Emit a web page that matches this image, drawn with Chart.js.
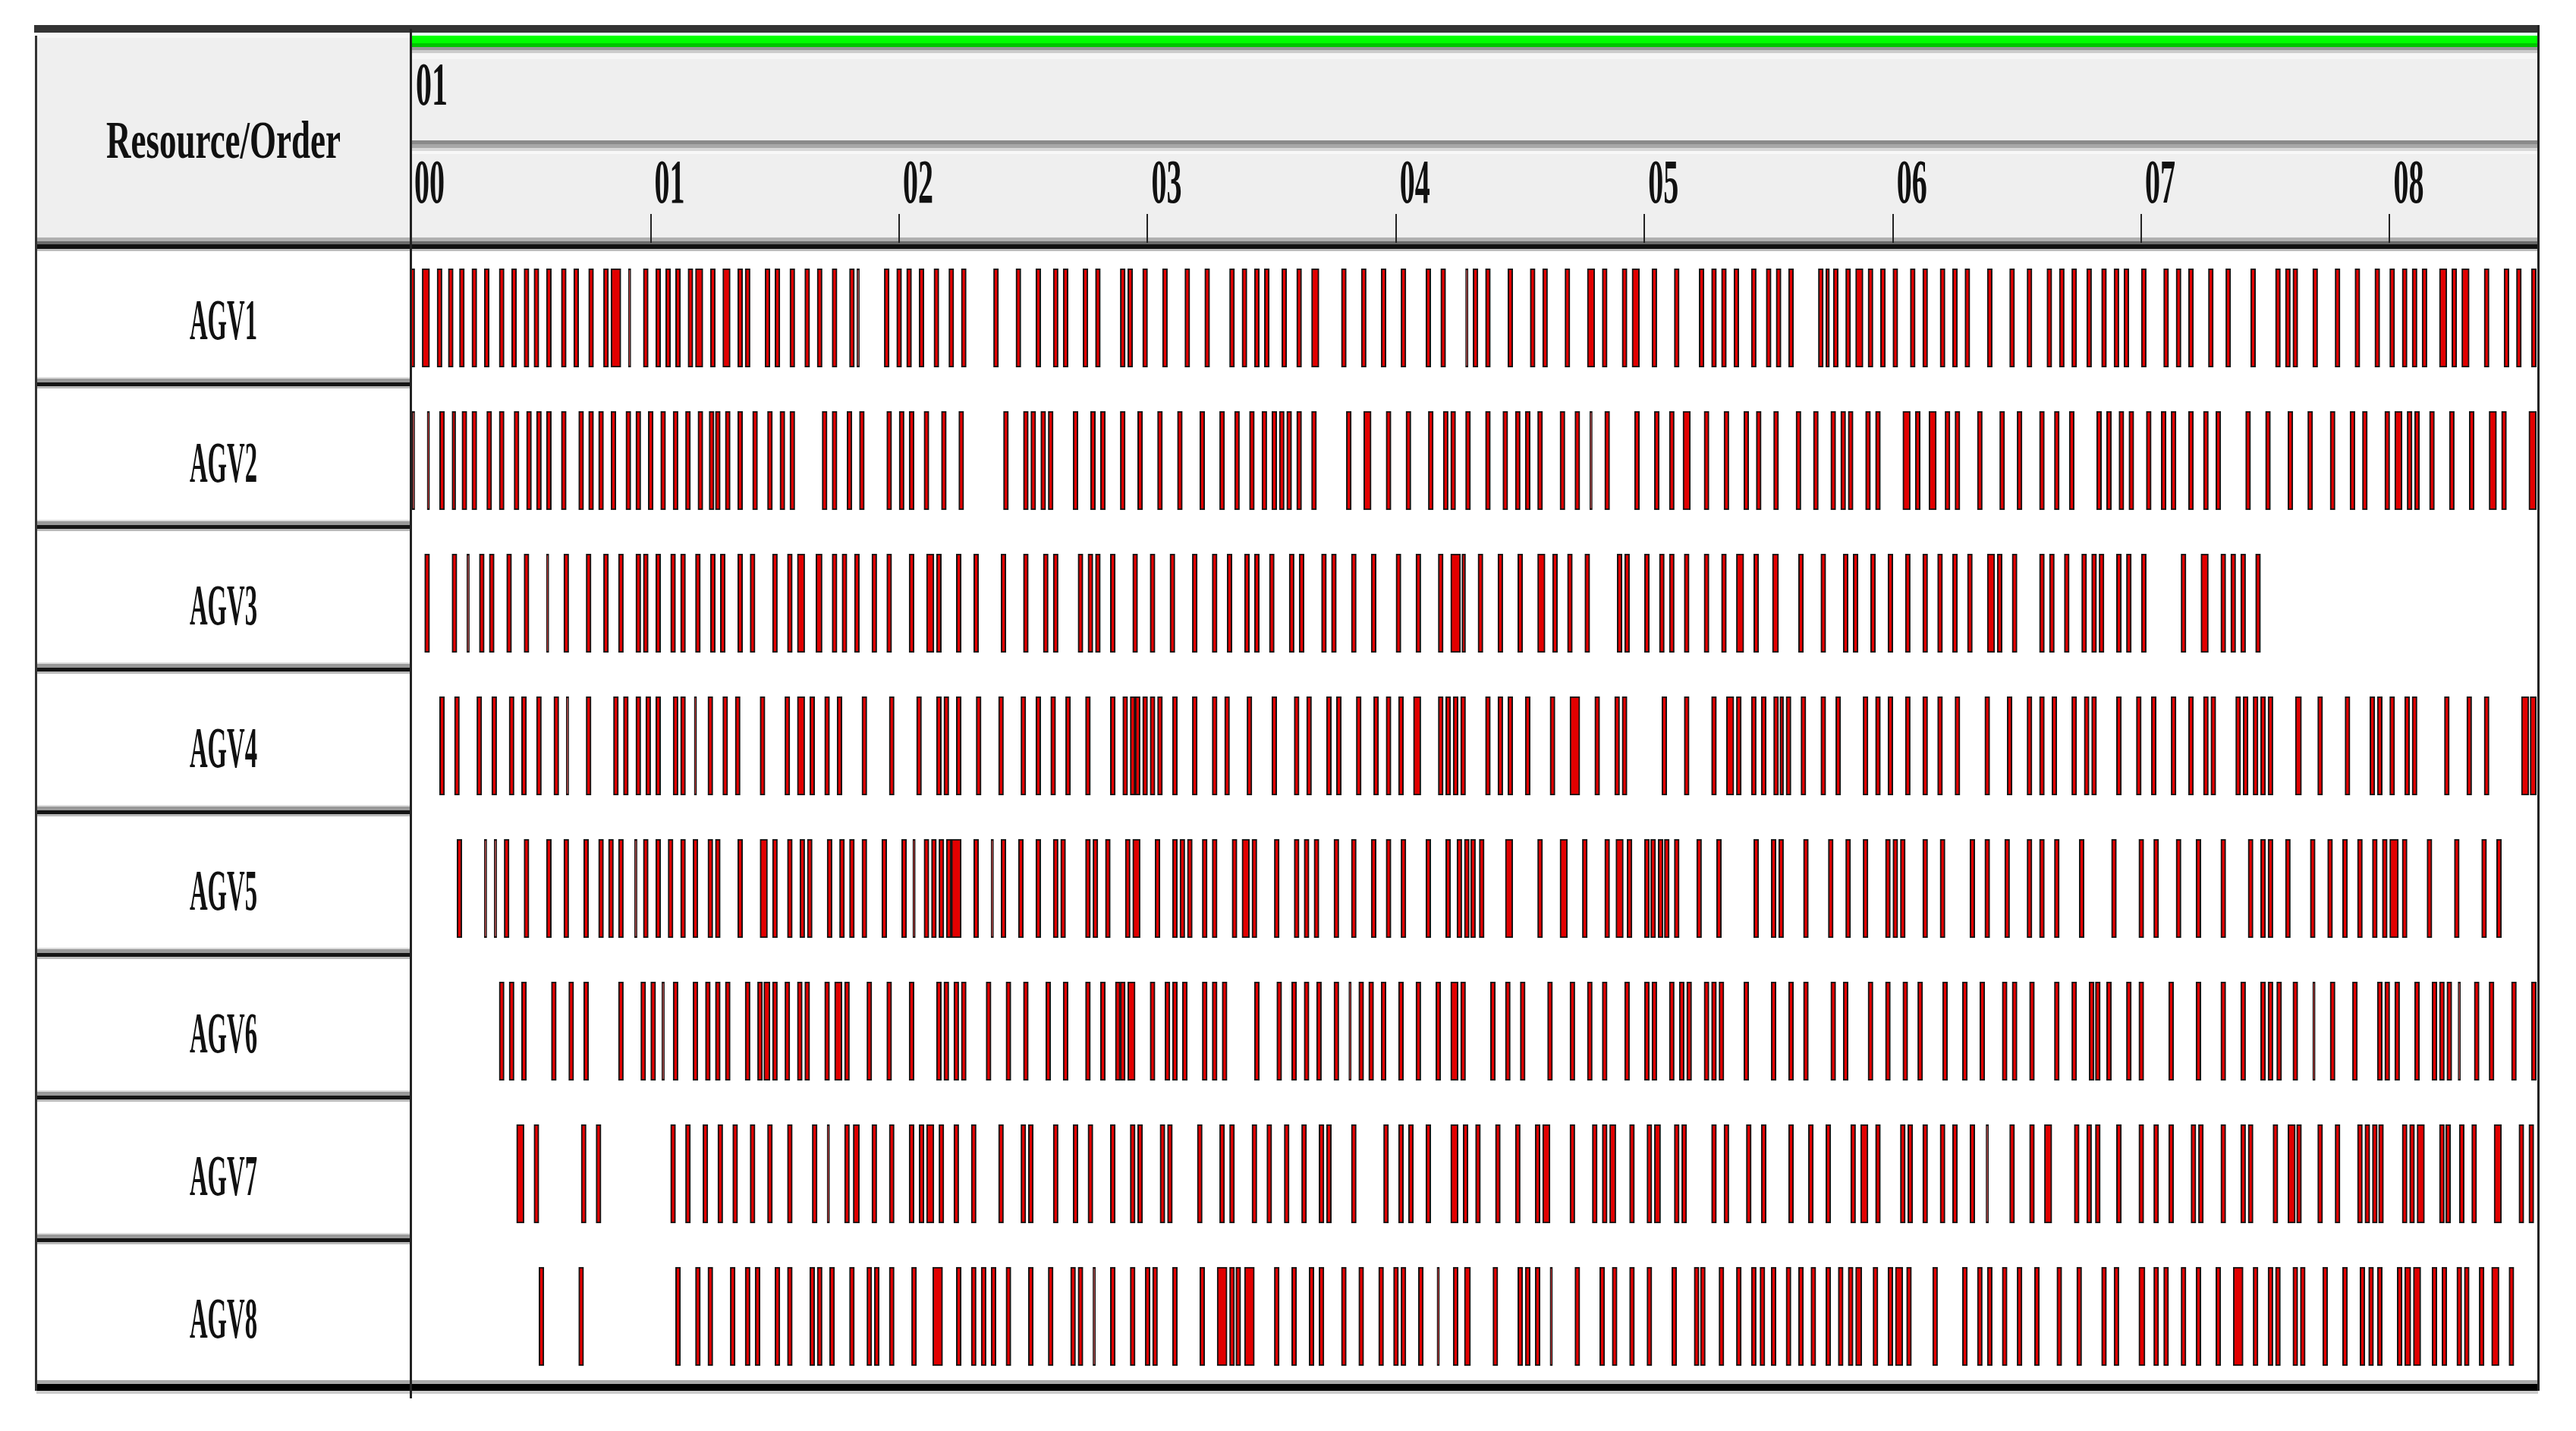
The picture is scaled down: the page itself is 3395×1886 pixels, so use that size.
<!DOCTYPE html>
<html>
<head>
<meta charset="utf-8">
<title>Resource/Order</title>
<script src="https://cdn.jsdelivr.net/npm/chart.js@4.4.1/dist/chart.umd.min.js"></script>
<style>
  html, body { margin: 0; padding: 0; background: #ffffff; }
  canvas { display: block; }
</style>
</head>
<body>
<canvas id="ganttChart" width="3395" height="1886"></canvas>
<script>
// resources (rows) and time axis
const resources = ["AGV1", "AGV2", "AGV3", "AGV4", "AGV5", "AGV6", "AGV7", "AGV8"];
const timeTicks = [0, 1, 2, 3, 4, 5, 6, 7, 8];
const timeTickLabels = ["00", "01", "02", "03", "04", "05", "06", "07", "08"];
const dayLabel = "01";
const cornerLabel = "Resource/Order";
const timeMin = 0.033;
const timeMax = 8.591;

// task intervals per AGV, [start, end] in hours
const agv1Bars = [
  [0.03,0.05],[0.08,0.11],[0.14,0.16],[0.185,0.205],[0.23,0.25],[0.28,0.30],[0.33,0.35],[0.39,0.41],[0.44,0.46],[0.49,0.51],
  [0.53,0.55],[0.58,0.60],[0.64,0.66],[0.69,0.71],[0.75,0.77],[0.81,0.83],[0.84,0.88],[0.91,0.92],[0.97,0.99],[1.02,1.04],
  [1.06,1.08],[1.10,1.12],[1.15,1.17],[1.18,1.21],[1.24,1.26],[1.29,1.32],[1.35,1.37],[1.38,1.40],[1.46,1.48],[1.50,1.52],
  [1.56,1.58],[1.62,1.64],[1.67,1.69],[1.73,1.75],[1.80,1.82],[1.83,1.84],[1.94,1.96],[1.99,2.01],[2.03,2.05],[2.08,2.10],
  [2.14,2.16],[2.20,2.22],[2.25,2.27],[2.38,2.40],[2.47,2.49],[2.55,2.57],[2.62,2.64],[2.66,2.68],[2.74,2.76],[2.79,2.81],
  [2.89,2.91],[2.92,2.94],[2.98,3.00],[3.06,3.08],[3.15,3.17],[3.23,3.25],[3.33,3.35],[3.38,3.40],[3.43,3.45],[3.47,3.49],
  [3.54,3.56],[3.60,3.62],[3.66,3.69],[3.78,3.80],[3.86,3.88],[3.94,3.96],[4.02,4.04],[4.12,4.14],[4.18,4.20],
  [4.28,4.29],[4.31,4.33],[4.36,4.38],[4.45,4.47],[4.54,4.56],[4.59,4.61],[4.68,4.70],[4.77,4.80],[4.83,4.85],[4.91,4.93],
  [4.95,4.98],[5.03,5.05],[5.12,5.14],[5.22,5.24],[5.27,5.29],[5.31,5.33],[5.36,5.38],[5.43,5.45],[5.49,5.51],[5.53,5.55],
  [5.58,5.60],[5.70,5.72],[5.73,5.745],[5.76,5.78],[5.81,5.83],[5.85,5.88],[5.90,5.92],[5.95,5.97],[6.00,6.02],[6.07,6.09],
  [6.12,6.14],[6.19,6.21],[6.24,6.26],[6.29,6.31],[6.38,6.40],[6.47,6.49],[6.54,6.56],[6.62,6.64],[6.67,6.69],[6.72,6.74],
  [6.78,6.80],[6.84,6.86],[6.89,6.91],[6.93,6.95],[7.00,7.02],[7.09,7.11],[7.14,7.16],[7.19,7.21],[7.27,7.29],[7.34,7.36],
  [7.44,7.46],[7.54,7.56],[7.58,7.60],[7.61,7.63],[7.69,7.71],[7.78,7.80],[7.86,7.88],[7.94,7.96],[8.00,8.02],[8.05,8.07],
  [8.09,8.11],[8.13,8.15],[8.20,8.23],[8.25,8.27],[8.29,8.32],[8.38,8.40],[8.46,8.48],[8.51,8.53],[8.57,8.59]
];
const agv2Bars = [
  [0.04,0.05],[0.10,0.11],[0.15,0.17],[0.20,0.215],[0.24,0.26],[0.28,0.30],[0.34,0.36],[0.39,0.41],[0.45,0.47],[0.50,0.52],
  [0.54,0.56],[0.58,0.60],[0.64,0.66],[0.71,0.73],[0.75,0.77],[0.79,0.81],[0.84,0.86],[0.90,0.92],[0.94,0.96],[0.99,1.01],
  [1.04,1.06],[1.09,1.11],[1.14,1.16],[1.19,1.21],[1.235,1.255],[1.26,1.28],[1.30,1.32],[1.35,1.37],[1.41,1.43],[1.47,1.49],
  [1.52,1.54],[1.56,1.58],[1.69,1.71],[1.73,1.75],[1.79,1.81],[1.84,1.86],[1.95,1.97],[2.00,2.02],[2.04,2.06],[2.10,2.12],
  [2.17,2.19],[2.24,2.26],[2.42,2.44],[2.50,2.52],[2.53,2.55],[2.57,2.59],[2.60,2.62],[2.70,2.72],[2.77,2.79],[2.81,2.83],
  [2.89,2.91],[2.96,2.98],[3.04,3.06],[3.12,3.14],[3.21,3.23],[3.29,3.31],[3.35,3.37],[3.41,3.43],[3.46,3.48],[3.50,3.52],
  [3.53,3.55],[3.56,3.58],[3.60,3.62],[3.66,3.68],[3.80,3.82],[3.87,3.90],[3.96,3.98],[4.04,4.06],[4.13,4.15],[4.19,4.21],
  [4.22,4.24],[4.28,4.30],[4.36,4.38],[4.43,4.45],[4.48,4.50],[4.52,4.54],[4.57,4.59],[4.66,4.68],[4.72,4.74],[4.78,4.79],
  [4.84,4.86],[4.96,4.98],[5.04,5.06],[5.10,5.12],[5.155,5.185],[5.24,5.26],[5.32,5.34],[5.40,5.42],[5.45,5.47],[5.52,5.54],
  [5.61,5.63],[5.68,5.70],[5.75,5.77],[5.79,5.81],[5.82,5.84],[5.89,5.91],[5.93,5.95],[6.04,6.07],[6.09,6.11],[6.145,6.175],
  [6.21,6.23],[6.25,6.27],[6.34,6.36],[6.43,6.45],[6.50,6.52],[6.59,6.61],[6.65,6.67],[6.71,6.73],[6.82,6.84],[6.86,6.88],
  [6.91,6.93],[6.95,6.97],[7.02,7.04],[7.08,7.10],[7.12,7.14],[7.19,7.21],[7.25,7.27],[7.30,7.32],[7.42,7.44],[7.50,7.52],
  [7.59,7.61],[7.67,7.69],[7.76,7.78],[7.84,7.86],[7.89,7.91],[7.98,8.00],[8.02,8.05],[8.07,8.09],[8.10,8.12],[8.16,8.18],
  [8.24,8.26],[8.32,8.34],[8.40,8.43],[8.45,8.47],[8.56,8.59]
];
const agv3Bars = [
  [0.09,0.11],[0.20,0.22],[0.26,0.27],[0.31,0.33],[0.35,0.37],[0.42,0.44],[0.49,0.51],[0.58,0.59],[0.65,0.67],[0.74,0.76],
  [0.81,0.83],[0.87,0.89],[0.94,0.96],[0.97,0.99],[1.02,1.04],[1.08,1.10],[1.12,1.14],[1.18,1.20],[1.24,1.26],[1.28,1.30],
  [1.35,1.37],[1.40,1.42],[1.49,1.51],[1.55,1.57],[1.59,1.62],[1.665,1.69],[1.73,1.75],[1.77,1.79],[1.82,1.84],[1.89,1.91],
  [1.95,1.97],[2.04,2.06],[2.11,2.14],[2.15,2.17],[2.23,2.25],[2.30,2.32],[2.41,2.43],[2.50,2.52],[2.58,2.60],[2.62,2.64],
  [2.72,2.74],[2.76,2.78],[2.79,2.81],[2.85,2.87],[2.94,2.96],[3.01,3.03],[3.09,3.11],[3.18,3.20],[3.26,3.28],[3.32,3.34],
  [3.39,3.41],[3.43,3.45],[3.49,3.51],[3.57,3.59],[3.61,3.63],[3.70,3.72],[3.74,3.76],[3.82,3.84],[3.90,3.92],[4.00,4.02],
  [4.08,4.10],[4.17,4.19],[4.22,4.26],[4.265,4.28],[4.33,4.35],[4.41,4.43],[4.49,4.51],[4.57,4.60],[4.63,4.65],[4.69,4.71],
  [4.76,4.78],[4.89,4.91],[4.92,4.94],[5.00,5.02],[5.06,5.08],[5.10,5.12],[5.16,5.18],[5.24,5.26],[5.31,5.33],[5.37,5.40],
  [5.44,5.46],[5.515,5.54],[5.62,5.64],[5.71,5.73],[5.80,5.82],[5.84,5.86],[5.91,5.93],[5.98,6.00],[6.05,6.07],[6.12,6.14],
  [6.18,6.20],[6.24,6.26],[6.30,6.32],[6.38,6.41],[6.42,6.44],[6.48,6.50],[6.59,6.61],[6.63,6.65],[6.69,6.71],[6.76,6.78],
  [6.80,6.82],[6.83,6.85],[6.90,6.92],[6.94,6.96],[7.00,7.02],[7.16,7.18],[7.24,7.27],[7.32,7.34],[7.36,7.38],[7.40,7.42],
  [7.46,7.48]
];
const agv4Bars = [
  [0.15,0.17],[0.21,0.23],[0.30,0.32],[0.36,0.38],[0.43,0.45],[0.48,0.50],[0.54,0.56],[0.61,0.63],[0.66,0.67],[0.74,0.76],
  [0.85,0.87],[0.89,0.91],[0.94,0.96],[0.98,1.00],[1.02,1.04],[1.09,1.11],[1.12,1.14],[1.175,1.185],[1.23,1.25],[1.29,1.31],
  [1.34,1.36],[1.44,1.46],[1.54,1.56],[1.59,1.62],[1.64,1.66],[1.70,1.72],[1.75,1.77],[1.85,1.87],[1.96,1.98],[2.07,2.09],
  [2.15,2.17],[2.18,2.20],[2.23,2.25],[2.31,2.33],[2.40,2.42],[2.49,2.51],[2.55,2.57],[2.61,2.63],[2.67,2.69],[2.75,2.77],
  [2.85,2.87],[2.90,2.92],[2.93,2.95],[2.95,2.97],[2.98,3.00],[3.01,3.03],[3.04,3.06],[3.10,3.12],[3.18,3.20],[3.26,3.28],
  [3.31,3.33],[3.40,3.42],[3.50,3.52],[3.59,3.61],[3.64,3.66],[3.72,3.74],[3.76,3.78],[3.84,3.86],[3.91,3.93],[3.96,3.98],
  [4.01,4.03],[4.07,4.10],[4.17,4.19],[4.20,4.22],[4.23,4.25],[4.26,4.28],[4.36,4.38],[4.41,4.43],[4.45,4.47],[4.52,4.54],
  [4.62,4.64],[4.70,4.74],[4.80,4.82],[4.88,4.90],[4.91,4.93],[5.07,5.09],[5.16,5.18],[5.27,5.29],[5.33,5.36],[5.37,5.39],
  [5.43,5.45],[5.47,5.49],[5.52,5.54],[5.545,5.56],[5.57,5.59],[5.63,5.65],[5.71,5.73],[5.77,5.79],[5.88,5.90],[5.93,5.95],
  [5.98,6.00],[6.05,6.07],[6.12,6.14],[6.18,6.20],[6.25,6.27],[6.37,6.39],[6.46,6.48],[6.54,6.56],[6.59,6.61],[6.64,6.66],
  [6.72,6.74],[6.77,6.79],[6.80,6.82],[6.90,6.92],[6.98,7.00],[7.04,7.06],[7.12,7.14],[7.19,7.21],[7.25,7.27],[7.28,7.30],
  [7.38,7.40],[7.41,7.43],[7.45,7.47],[7.48,7.50],[7.51,7.53],[7.62,7.645],[7.71,7.73],[7.82,7.84],[7.92,7.94],[7.95,7.97],
  [8.00,8.02],[8.06,8.08],[8.09,8.11],[8.22,8.24],[8.31,8.33],[8.38,8.40],[8.53,8.56],[8.565,8.59]
];
const agv5Bars = [
  [0.22,0.24],[0.33,0.34],[0.37,0.38],[0.41,0.43],[0.49,0.51],[0.58,0.60],[0.65,0.67],[0.73,0.75],[0.79,0.81],[0.83,0.85],
  [0.87,0.89],[0.935,0.945],[0.97,0.99],[1.02,1.04],[1.07,1.09],[1.12,1.14],[1.17,1.19],[1.23,1.25],[1.26,1.28],[1.35,1.37],
  [1.44,1.47],[1.49,1.51],[1.55,1.57],[1.60,1.62],[1.63,1.65],[1.71,1.73],[1.76,1.78],[1.80,1.82],[1.85,1.87],[1.93,1.95],
  [2.01,2.03],[2.055,2.065],[2.10,2.12],[2.13,2.15],[2.16,2.18],[2.19,2.21],[2.21,2.25],[2.30,2.32],[2.37,2.38],[2.41,2.43],
  [2.48,2.50],[2.55,2.57],[2.62,2.64],[2.65,2.67],[2.75,2.77],[2.78,2.80],[2.83,2.85],[2.91,2.93],[2.94,2.97],[3.03,3.05],
  [3.10,3.12],[3.13,3.15],[3.16,3.18],[3.22,3.24],[3.26,3.28],[3.34,3.36],[3.38,3.41],[3.42,3.44],[3.51,3.53],[3.59,3.61],
  [3.63,3.65],[3.67,3.69],[3.75,3.77],[3.82,3.84],[3.90,3.92],[3.96,3.98],[4.02,4.04],[4.12,4.14],[4.20,4.22],[4.245,4.265],
  [4.275,4.295],[4.30,4.32],[4.335,4.355],[4.44,4.47],[4.57,4.59],[4.66,4.69],[4.75,4.77],[4.84,4.86],[4.885,4.915],[4.93,4.95],
  [5.00,5.02],[5.025,5.045],[5.055,5.075],[5.08,5.10],[5.12,5.14],[5.21,5.23],[5.29,5.31],[5.44,5.46],[5.51,5.53],[5.54,5.56],
  [5.64,5.66],[5.74,5.76],[5.81,5.83],[5.88,5.90],[5.97,5.99],[6.00,6.02],[6.03,6.05],[6.12,6.14],[6.19,6.21],[6.31,6.33],
  [6.37,6.39],[6.45,6.47],[6.54,6.56],[6.59,6.61],[6.65,6.67],[6.75,6.77],[6.88,6.90],[6.99,7.01],[7.05,7.07],[7.14,7.16],
  [7.22,7.24],[7.32,7.34],[7.43,7.45],[7.48,7.50],[7.51,7.53],[7.58,7.60],[7.68,7.70],[7.75,7.77],[7.81,7.83],[7.87,7.89],
  [7.93,7.95],[7.97,7.99],[8.00,8.035],[8.05,8.07],[8.15,8.17],[8.26,8.28],[8.37,8.39],[8.43,8.45]
];
const agv6Bars = [
  [0.39,0.41],[0.43,0.45],[0.48,0.50],[0.60,0.62],[0.67,0.69],[0.73,0.75],[0.87,0.89],[0.96,0.98],[1.00,1.02],[1.045,1.055],
  [1.09,1.11],[1.17,1.19],[1.22,1.24],[1.26,1.28],[1.30,1.32],[1.38,1.40],[1.43,1.45],[1.455,1.48],[1.49,1.51],[1.54,1.56],
  [1.59,1.61],[1.62,1.64],[1.70,1.72],[1.74,1.77],[1.78,1.80],[1.87,1.89],[1.95,1.97],[2.04,2.06],[2.15,2.17],[2.18,2.20],
  [2.22,2.24],[2.25,2.27],[2.35,2.37],[2.43,2.45],[2.50,2.52],[2.59,2.61],[2.66,2.68],[2.75,2.77],[2.81,2.83],[2.87,2.89],
  [2.89,2.91],[2.92,2.95],[3.01,3.03],[3.07,3.09],[3.10,3.12],[3.14,3.16],[3.22,3.24],[3.26,3.28],[3.30,3.32],[3.43,3.45],
  [3.52,3.54],[3.58,3.60],[3.63,3.65],[3.68,3.70],[3.75,3.77],[3.81,3.82],[3.85,3.87],[3.89,3.91],[3.94,3.96],[4.01,4.03],
  [4.08,4.10],[4.16,4.18],[4.22,4.25],[4.26,4.28],[4.38,4.40],[4.44,4.46],[4.50,4.52],[4.61,4.63],[4.70,4.72],[4.77,4.79],
  [4.83,4.85],[4.92,4.94],[5.00,5.02],[5.03,5.05],[5.10,5.12],[5.14,5.16],[5.17,5.19],[5.24,5.26],[5.27,5.29],[5.30,5.32],
  [5.40,5.42],[5.51,5.53],[5.58,5.60],[5.64,5.66],[5.75,5.77],[5.80,5.82],[5.90,5.92],[5.97,5.99],[6.04,6.06],[6.10,6.12],
  [6.20,6.22],[6.28,6.30],[6.35,6.37],[6.44,6.46],[6.48,6.50],[6.55,6.57],[6.65,6.67],[6.72,6.74],[6.79,6.81],[6.815,6.835],
  [6.86,6.88],[6.94,6.96],[6.99,7.01],[7.11,7.13],[7.22,7.24],[7.32,7.34],[7.40,7.42],[7.48,7.50],[7.51,7.53],[7.545,7.565],
  [7.61,7.63],[7.69,7.70],[7.76,7.78],[7.85,7.87],[7.95,7.97],[7.98,8.00],[8.02,8.04],[8.10,8.12],[8.17,8.19],[8.20,8.22],
  [8.23,8.25],[8.275,8.285],[8.34,8.36],[8.40,8.42],[8.49,8.51],[8.57,8.59]
];
const agv7Bars = [
  [0.46,0.49],[0.53,0.55],[0.72,0.74],[0.78,0.80],[1.08,1.10],[1.14,1.16],[1.21,1.23],[1.27,1.29],[1.33,1.35],[1.40,1.42],
  [1.47,1.49],[1.55,1.57],[1.65,1.67],[1.71,1.72],[1.78,1.80],[1.815,1.84],[1.89,1.91],[1.96,1.98],[2.04,2.06],[2.08,2.10],
  [2.11,2.14],[2.16,2.18],[2.22,2.24],[2.29,2.31],[2.40,2.42],[2.49,2.51],[2.52,2.54],[2.62,2.64],[2.70,2.72],[2.76,2.78],
  [2.85,2.87],[2.93,2.95],[2.96,2.98],[3.05,3.07],[3.08,3.10],[3.20,3.22],[3.29,3.31],[3.33,3.35],[3.42,3.44],[3.48,3.50],
  [3.55,3.57],[3.62,3.64],[3.69,3.71],[3.72,3.74],[3.82,3.84],[3.95,3.97],[4.01,4.03],[4.05,4.07],[4.12,4.14],[4.22,4.25],
  [4.27,4.29],[4.32,4.34],[4.40,4.42],[4.48,4.50],[4.56,4.58],[4.59,4.62],[4.70,4.72],[4.79,4.81],[4.83,4.85],[4.86,4.885],
  [4.94,4.96],[5.01,5.03],[5.04,5.065],[5.12,5.14],[5.15,5.17],[5.27,5.29],[5.32,5.34],[5.41,5.43],[5.47,5.49],[5.58,5.60],
  [5.66,5.68],[5.73,5.75],[5.83,5.85],[5.87,5.90],[5.93,5.95],[6.03,6.05],[6.06,6.08],[6.12,6.14],[6.19,6.21],[6.24,6.26],
  [6.31,6.33],[6.375,6.385],[6.47,6.49],[6.55,6.57],[6.61,6.64],[6.73,6.75],[6.78,6.80],[6.815,6.835],[6.90,6.92],[6.99,7.01],
  [7.05,7.07],[7.11,7.13],[7.20,7.22],[7.23,7.25],[7.32,7.34],[7.40,7.42],[7.43,7.45],[7.53,7.55],[7.59,7.62],[7.625,7.645],
  [7.71,7.73],[7.78,7.80],[7.87,7.89],[7.90,7.92],[7.93,7.95],[7.955,7.975],[8.05,8.07],[8.08,8.10],[8.11,8.14],[8.20,8.22],
  [8.225,8.245],[8.28,8.30],[8.33,8.35],[8.42,8.45],[8.52,8.54],[8.56,8.58]
];
const agv8Bars = [
  [0.55,0.57],[0.71,0.73],[1.10,1.12],[1.18,1.20],[1.23,1.25],[1.32,1.34],[1.38,1.40],[1.42,1.44],[1.50,1.52],[1.55,1.57],
  [1.64,1.66],[1.67,1.69],[1.72,1.74],[1.80,1.82],[1.87,1.89],[1.90,1.92],[1.96,1.98],[2.05,2.07],[2.135,2.175],[2.23,2.25],
  [2.29,2.31],[2.33,2.35],[2.37,2.39],[2.43,2.45],[2.52,2.54],[2.60,2.62],[2.69,2.71],[2.72,2.74],[2.78,2.79],[2.85,2.87],
  [2.93,2.95],[2.99,3.01],[3.02,3.04],[3.10,3.12],[3.21,3.23],[3.28,3.32],[3.33,3.35],[3.355,3.375],[3.39,3.43],[3.51,3.53],
  [3.58,3.60],[3.65,3.67],[3.69,3.71],[3.78,3.80],[3.85,3.87],[3.93,3.95],[3.99,4.01],[4.02,4.04],[4.09,4.11],[4.165,4.175],
  [4.23,4.25],[4.275,4.30],[4.39,4.41],[4.49,4.51],[4.52,4.54],[4.56,4.58],[4.62,4.63],[4.72,4.74],[4.82,4.84],[4.87,4.89],
  [4.94,4.96],[5.01,5.03],[5.11,5.13],[5.20,5.22],[5.225,5.245],[5.30,5.32],[5.37,5.39],[5.43,5.45],[5.465,5.485],[5.51,5.53],
  [5.57,5.59],[5.62,5.64],[5.67,5.69],[5.73,5.75],[5.78,5.80],[5.82,5.84],[5.85,5.875],[5.92,5.94],[5.98,6.00],[6.01,6.04],
  [6.055,6.075],[6.16,6.18],[6.28,6.30],[6.34,6.36],[6.38,6.40],[6.44,6.46],[6.50,6.52],[6.57,6.59],[6.66,6.68],[6.74,6.76],
  [6.84,6.86],[6.89,6.91],[6.99,7.015],[7.05,7.07],[7.09,7.11],[7.16,7.18],[7.22,7.24],[7.30,7.32],[7.37,7.41],[7.45,7.47],
  [7.51,7.53],[7.54,7.56],[7.61,7.63],[7.64,7.66],[7.73,7.75],[7.81,7.83],[7.88,7.90],[7.915,7.935],[7.95,7.97],[8.03,8.05],
  [8.06,8.085],[8.095,8.125],[8.17,8.19],[8.21,8.23],[8.27,8.29],[8.30,8.32],[8.36,8.38],[8.41,8.44],[8.48,8.50]
];

const barsByResource = [agv1Bars, agv2Bars, agv3Bars, agv4Bars, agv5Bars, agv6Bars, agv7Bars, agv8Bars];

// condensed label text, squeezed horizontally to a target width
function drawNarrowText(ctx, text, x, baseline, width, capHeight, align) {
  const size = capHeight / 0.66;
  ctx.save();
  ctx.font = `bold ${size}px 'Liberation Serif', 'DejaVu Serif', serif`;
  ctx.textAlign = 'left';
  ctx.textBaseline = 'alphabetic';
  const w = ctx.measureText(text).width;
  const left = align === 'center' ? x - width / 2 : x;
  ctx.translate(left, baseline);
  ctx.scale(width / w, 1);
  ctx.fillStyle = '#111111';
  ctx.fillText(text, 0, 0);
  ctx.restore();
}

function band(ctx, color, x0, y0, x1, y1) {
  ctx.fillStyle = color;
  ctx.fillRect(x0, y0, x1 - x0, y1 - y0);
}

const ganttFrame = {
  id: 'ganttFrame',
  beforeDraw(chart) {
    const ctx = chart.ctx;
    const area = chart.chartArea;
    const xScale = chart.scales.x;
    const L = 48, R = area.right + 2, S = area.left;

    band(ctx, '#ffffff', 0, 0, chart.width, chart.height);

    // top border
    band(ctx, '#333333', L - 3, 33, R + 2, 43);

    // left header cell
    band(ctx, '#f6f6f6', L, 43, S, 50);
    band(ctx, '#efefef', L, 50, S, 313);

    // right header: green strip, day row, hour row
    band(ctx, '#e4fff0', S, 43, R, 47);
    band(ctx, '#00ff00', S, 47, R, 57);
    band(ctx, '#00c400', S, 57, R, 62);
    band(ctx, '#9a9a9a', S, 62, R, 66);
    band(ctx, '#cccccc', S, 66, R, 70);
    band(ctx, '#f6f6f6', S, 70, R, 78);
    band(ctx, '#efefef', S, 78, R, 185);
    band(ctx, '#8a8a8a', S, 185, R, 190);
    band(ctx, '#a8a8a8', S, 190, R, 195);
    band(ctx, '#d8d8d8', S, 195, R, 199);
    band(ctx, '#f8f8f8', S, 199, R, 203);
    band(ctx, '#efefef', S, 203, R, 313);

    // header bottom line
    band(ctx, '#b0b0b0', L, 313, R, 318);
    band(ctx, '#6a6a6a', L, 318, R, 322);
    band(ctx, '#111111', L, 322, R, 328);
    band(ctx, '#bdbdbd', L, 328, R, 331);

    // hour ticks and labels
    ctx.save();
    ctx.strokeStyle = '#222222';
    ctx.lineWidth = 2;
    timeTicks.forEach((v, i) => {
      const px = xScale.getPixelForValue(v);
      if (px > S + 2) {
        ctx.beginPath();
        ctx.moveTo(Math.round(px), 282);
        ctx.lineTo(Math.round(px), 320);
        ctx.stroke();
      }
      drawNarrowText(ctx, timeTickLabels[i], Math.max(px, S) + 5, 267, 40, 54, 'left');
    });
    ctx.restore();

    drawNarrowText(ctx, dayLabel, S + 7, 138, 42, 53, 'left');
    drawNarrowText(ctx, cornerLabel, (L + S) / 2, 208, 309, 46, 'center');
  },
  afterDraw(chart) {
    const ctx = chart.ctx;
    const area = chart.chartArea;
    const yScale = chart.scales.y;
    const L = 48, R = area.right + 2, S = area.left;
    const rowH = (area.bottom - area.top) / resources.length;

    // left column cells and separators
    resources.forEach((name, i) => {
      const b = area.top + rowH * (i + 1);
      if (i < resources.length - 1) {
        band(ctx, '#dddddd', L, b - 16, S, b - 14);
        band(ctx, '#999999', L, b - 14, S, b - 9);
        band(ctx, '#151515', L, b - 9, S, b - 4);
        band(ctx, '#bbbbbb', L, b - 4, S, b - 1);
      }
      const cy = yScale.getPixelForValue(i);
      drawNarrowText(ctx, name, (L + S) / 2, cy + 28, 89, 50, 'center');
    });

    // bottom line
    const bottom = area.bottom;
    band(ctx, '#aaaaaa', L, bottom - 10, R, bottom - 5);
    band(ctx, '#000000', L, bottom - 5, R, bottom + 4);
    band(ctx, '#cccccc', L, bottom + 4, R, bottom + 8);

    // verticals: outer left, column divider, right edge
    band(ctx, '#333333', L - 2, 47, L + 1, bottom + 4);
    band(ctx, '#222222', S - 1, 38, S + 2, bottom + 14);
    band(ctx, '#222222', R - 1, 33, R + 2, bottom + 4);
  }
};

const ganttData = barsByResource.flatMap((bars, i) =>
  bars.map(b => ({ x: b, y: resources[i] }))
);

new Chart(document.getElementById('ganttChart'), {
  type: 'bar',
  data: {
    labels: resources,
    datasets: [{
      label: 'Orders',
      data: ganttData,
      backgroundColor: '#e20000',
      borderColor: '#141414',
      borderWidth: 2,
      borderSkipped: false,
      barThickness: 130
    }]
  },
  options: {
    indexAxis: 'y',
    responsive: false,
    devicePixelRatio: 1,
    animation: false,
    layout: {
      padding: { left: 541, right: 52, top: 325, bottom: 57 }
    },
    plugins: {
      legend: { display: false },
      tooltip: { enabled: false },
      title: { display: false }
    },
    scales: {
      x: {
        type: 'linear',
        min: timeMin,
        max: timeMax,
        display: false
      },
      y: {
        type: 'category',
        labels: resources,
        display: false,
        offset: true
      }
    }
  },
  plugins: [ganttFrame]
});
</script>
</body>
</html>
